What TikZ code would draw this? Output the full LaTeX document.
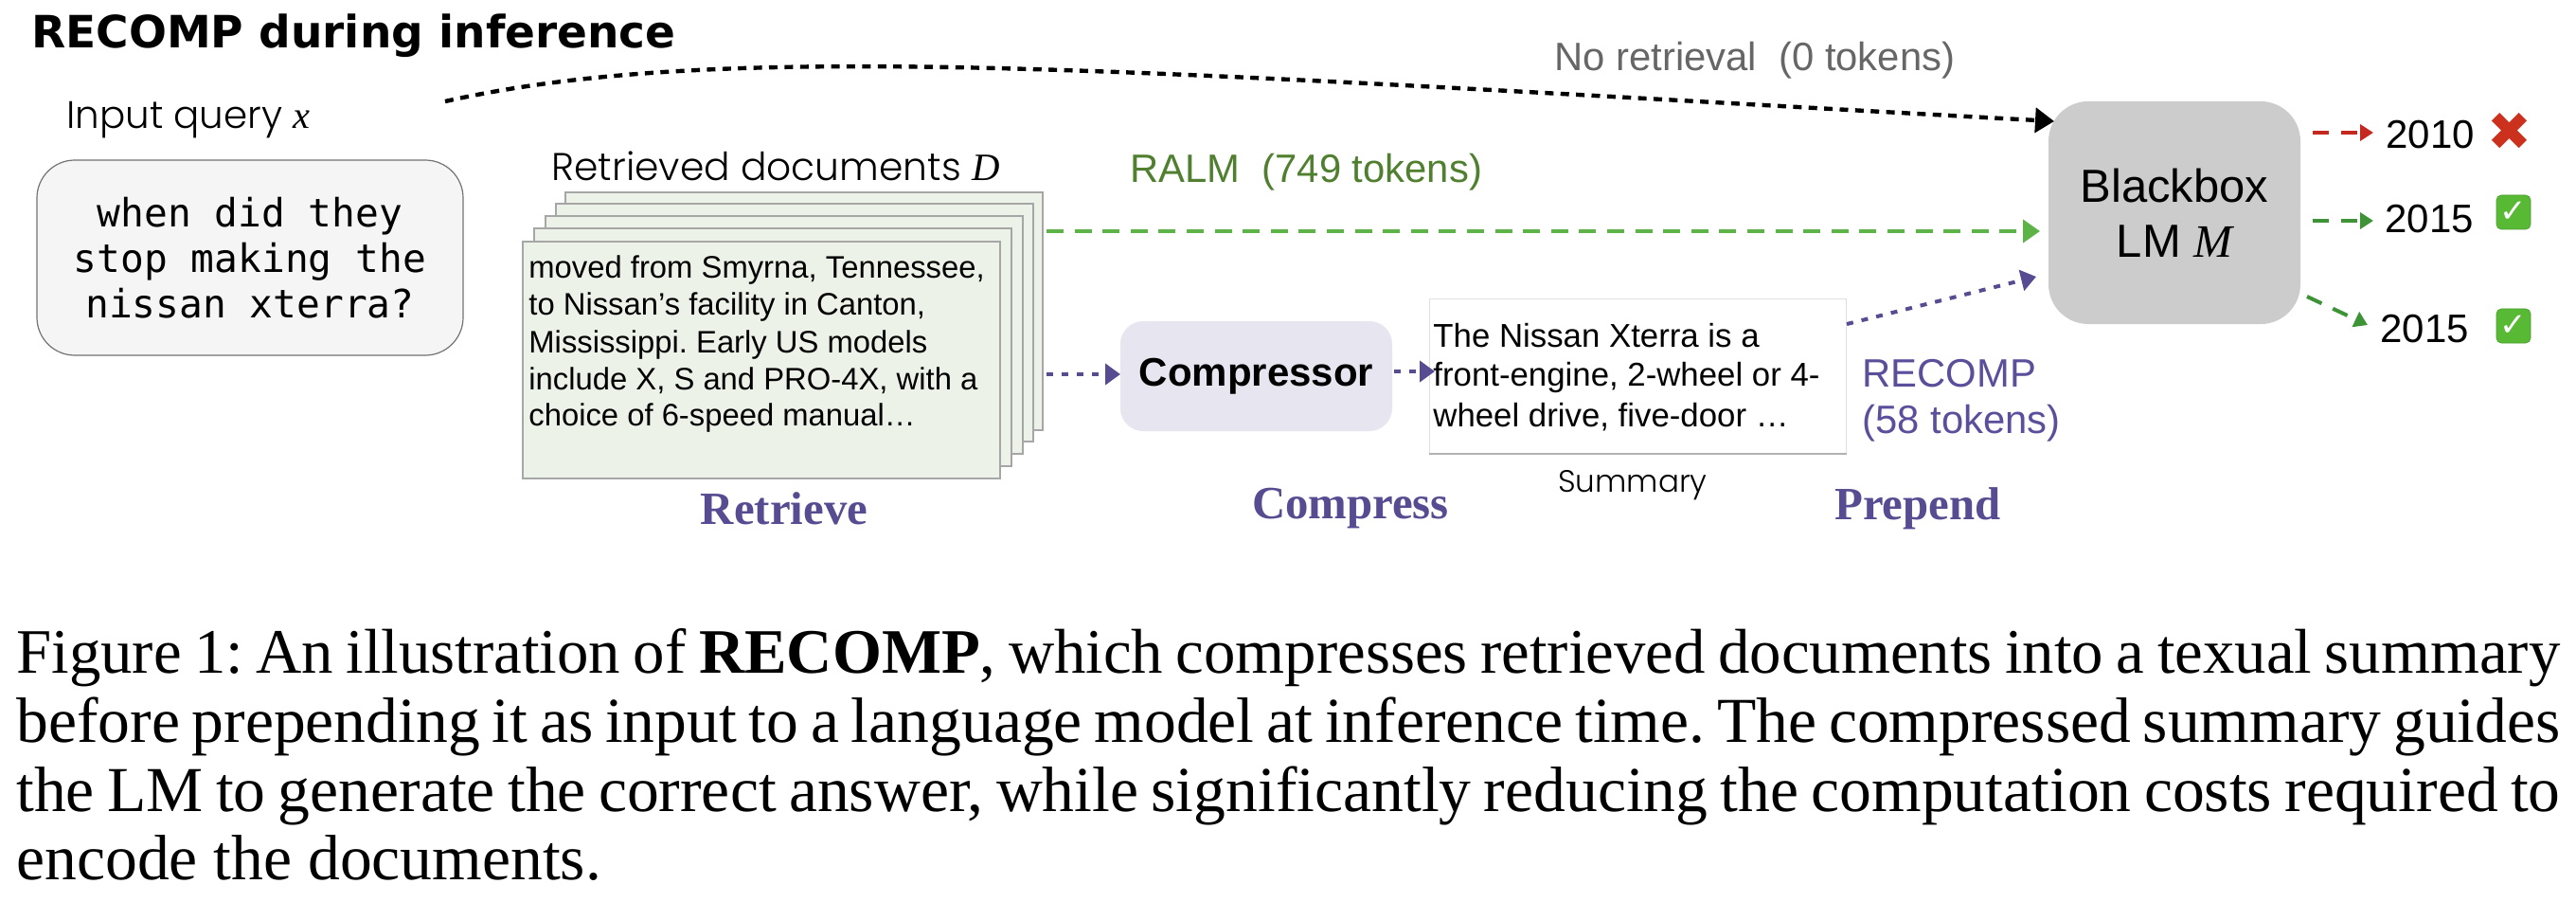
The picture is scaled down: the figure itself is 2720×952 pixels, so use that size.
\documentclass[tikz,border=0pt]{standalone}
\usepackage{fontspec}
\usetikzlibrary{arrows.meta}
\setmainfont{Liberation Sans}
\newfontfamily\serif{Liberation Serif}
\newfontfamily\monof{DejaVu Sans Mono}
\newfontfamily\titlef{DejaVu Sans}
\newfontfamily\pop{Poppins}[UprightFont=* Light]
\newfontfamily\djvu{DejaVu Sans}
\frenchspacing
\definecolor{purp}{HTML}{574C91}
\definecolor{purpl}{HTML}{5B4E9B}
\definecolor{ralm}{HTML}{4F7F2F}
\definecolor{gar}{HTML}{5DB347}
\definecolor{dgar}{HTML}{3E9337}
\definecolor{redar}{HTML}{C5281F}
\definecolor{docfill}{HTML}{ECF2E8}
\definecolor{chk}{HTML}{58B935}
\tikzset{
  docsheet/.style={draw=black!35,line width=0.8pt,fill=docfill,anchor=north west,inner sep=0pt},
  lab/.style={inner sep=0pt,anchor=west},
  doctext/.style={inner sep=0pt,anchor=base west,font=\frenchspacing\fontsize{16.4}{20}\selectfont},
  sumtext/.style={inner sep=0pt,anchor=base west,font=\frenchspacing\fontsize{17.4}{20}\selectfont},
  caption/.style={inner sep=0pt,anchor=base west,font=\frenchspacing\serif\fontsize{33.8}{36}\selectfont},
  stepname/.style={inner sep=0pt,text=purp,font=\serif\bfseries\fontsize{24.4}{26}\selectfont},
  answer/.style={inner sep=0pt,anchor=west,font=\fontsize{21}{24}\selectfont},
  okmark/.style={fill=chk,draw=chk!85!black,line width=0.3pt,rounded corners=2.5pt,minimum width=18pt,minimum height=18pt,inner sep=0pt,text=white,font=\djvu\fontsize{17}{17}\selectfont},
  dotarrow/.style={line width=2.2pt,dash pattern=on 4.5pt off 3.7pt,-{Triangle[length=10pt,width=13pt]}},
  ralmarrow/.style={draw=gar,line width=2pt,dash pattern=on 9pt off 5.8pt,-{Triangle[length=9pt,width=12pt]},color=gar},
  purparrow/.style={draw=purp,color=purp,line width=2pt,dash pattern=on 3.5pt off 4.5pt,-{Triangle[length=8pt,width=11pt]}},
  outarrow/.style={line width=2pt,dash pattern=on 8.5pt off 6.5pt,-{Triangle[length=7pt,width=8.5pt]}},
}
\begin{document}
\begin{tikzpicture}[x=0.5pt,y=-0.5pt]
\useasboundingbox (0,0) rectangle (2720,952);
\fill[white] (0,0) rectangle (2720,952);
% Title and query
\node[lab,font=\titlef\bfseries\fontsize{23.5}{26}\selectfont] (title) at (33,38) {RECOMP during inference};
\node[lab,font=\pop\fontsize{20.2}{24}\selectfont] (inputlab) at (70,127) {Input query {\serif\itshape x}};
\node[draw=black!55,line width=0.6pt,fill=black!4,rounded corners=20pt,minimum width=225pt,minimum height=103pt,inner sep=0pt,align=center,font=\monof\fontsize{20.6}{24}\selectfont] (query) at (264,272) {when did they\\stop making the\\nissan xterra?};
% Documents stack
\node[lab,font=\pop\fontsize{20.4}{24}\selectfont] (doclab) at (582,175) {Retrieved documents {\serif\itshape D}};
\node[docsheet,minimum width=252pt,minimum height=125.5pt] (d4) at (596,202) {};
\node[docsheet,minimum width=252pt,minimum height=125.5pt] (d3) at (586,214) {};
\node[docsheet,minimum width=252pt,minimum height=125.5pt] (d2) at (575,227) {};
\node[docsheet,minimum width=252pt,minimum height=125.5pt] (d1) at (563,240) {};
\node[docsheet,minimum width=252pt,minimum height=125pt] (d0) at (551,254) {};
\node[doctext] (t1) at (558,293) {moved from Smyrna, Tennessee,};
\node[doctext] (t2) at (558,332) {to Nissan{\char"0027}s facility in Canton,};
\node[doctext] (t3) at (558,372) {Mississippi. Early US models};
\node[doctext] (t4) at (558,411) {include X, S and PRO-4X, with a};
\node[doctext] (t5) at (558,449) {choice of 6-speed manual…};
% Compressor, Summary, LM
\node[fill=purp!14,rounded corners=12pt,minimum width=143.5pt,minimum height=58pt,inner sep=0pt,font=\bfseries\fontsize{21}{24}\selectfont] (comp) at (1326.5,397) {Compressor};
\node[draw=black!12,line width=0.5pt,fill=white,anchor=north west,minimum width=220pt,minimum height=81.5pt,inner sep=0pt] (sum) at (1509,315) {};
\draw[black!30,line width=1.2pt] (sum.south west) -- (sum.south east);
\node[sumtext] (s1) at (1513,366) {The Nissan Xterra is a};
\node[sumtext] (s2) at (1513,408) {front-engine, 2-wheel or 4-};
\node[sumtext] (s3) at (1513,450) {wheel drive, five-door …};
\node[inner sep=0pt,font=\pop\fontsize{16.3}{20}\selectfont] (sumlab) at (1724,512) {Summary};
\node[fill=black!20,rounded corners=21pt,minimum width=133pt,minimum height=117.5pt,inner sep=0pt,align=center,font=\fontsize{24.5}{29}\selectfont] (lm) at (2296,224.5) {Blackbox\\LM {\serif\itshape M}};
% Path labels
\node[lab,text=black!60,font=\fontsize{20.9}{24}\selectfont] (nolab) at (1641,64) {No retrieval\ \ (0 tokens)};
\node[lab,text=ralm,font=\fontsize{20.9}{24}\selectfont] (ralmlab) at (1193,182) {RALM\ \ (749 tokens)};
\node[lab,text=purpl,font=\fontsize{20.9}{24}\selectfont] (reclab) at (1966,394) {RECOMP};
\node[lab,text=purpl,font=\fontsize{20.9}{24}\selectfont] (toklab) at (1966,447) {(58 tokens)};
\node[stepname] (st1) at (828,537) {Retrieve};
\node[stepname] (st2) at (1426,537) {Compress};
\node[stepname] (st3) at (2025,537) {Prepend};
% Answers
\node[answer] (a1) at (2519,142) {2010};
\node[answer] (a2) at (2518,231) {2015};
\node[answer] (a3) at (2513,347) {2015};
\node[inner sep=0pt,text=redar!90!orange,font=\djvu\fontsize{28}{28}\selectfont] (m1) at (2650,139) {✖};
\node[okmark] (m2) at (2654,224) {✓};
\node[okmark] (m3) at (2654,344) {✓};
% Connector ends
\coordinate (qout) at (470,107);
\coordinate (lmtop) at (2169,128);
\coordinate (dr) at (1105,244);
\coordinate (lmr) at (2154,244);
\coordinate (dc) at (1105,395);
\coordinate (cl) at (1183,395);
\coordinate (cr) at (1472,392);
\coordinate (sl) at (1515,392);
\coordinate (sr) at (1950,342);
\coordinate (lmp) at (2150,292);
\coordinate (o1) at (2442,140);
\coordinate (o2) at (2442,233);
\coordinate (o3) at (2436,313);
\coordinate (i1) at (2506,140);
\coordinate (i2) at (2506,233);
\coordinate (i3) at (2500,343);
% Connectors
\draw[dotarrow] (qout) .. controls (770,40) and (1200,75) .. (lmtop);
\draw[ralmarrow] (dr) -- (lmr);
\draw[purparrow] (dc) -- (cl);
\draw[purparrow] (cr) -- (sl);
\draw[purparrow] (sr) -- (lmp);
\draw[outarrow,redar] (o1) -- (i1);
\draw[outarrow,dgar] (o2) -- (i2);
\draw[outarrow,dgar] (o3) -- (i3);
% Caption
\node[caption] (c1) at (17,710) {\fontsize{33.4}{36}\selectfont\hbox to 1343pt{Figure 1:\hskip 0.2em An illustration of \textbf{RECOMP}, which compresses retrieved documents into a texual summary}};
\node[caption] (c2) at (17,783) {\hbox to 1343pt{before prepending it as input to a language model at inference time. The compressed summary guides}};
\node[caption] (c3) at (17,856) {\hbox to 1343pt{the LM to generate the correct answer, while significantly reducing the computation costs required to}};
\node[caption] (c4) at (17,928) {encode the documents.};
\end{tikzpicture}
\end{document}
